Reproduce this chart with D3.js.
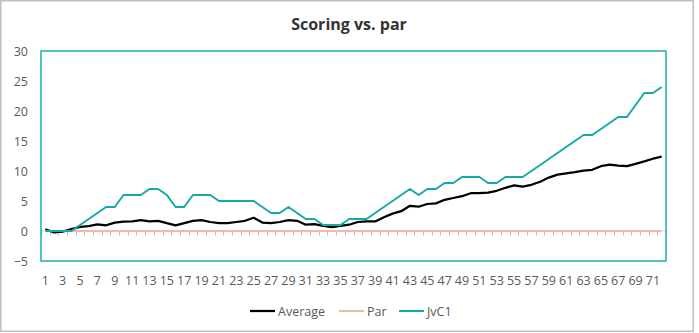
<!DOCTYPE html>
<html><head><meta charset="utf-8">
<script src="https://cdn.jsdelivr.net/npm/d3@7"></script>
<style>
html,body{margin:0;padding:0;background:#fff;}
text{font-family:"Open Sans","Noto Sans",sans-serif;}
</style></head>
<body>
<svg id="chart" width="699" height="333"></svg>
<script>
const categories = d3.range(1, 73);
const tickLabels = d3.range(1, 72, 2);
const yTicks = [-5, 0, 5, 10, 15, 20, 25, 30];
const average = [0.3,-0.25,-0.1,0.3,0.7,0.8,1.1,0.95,1.4,1.55,1.6,1.8,1.6,1.7,1.3,0.95,1.3,1.7,1.8,1.5,
  1.3,1.3,1.5,1.7,2.2,1.4,1.3,1.5,1.8,1.7,1.05,1.15,0.85,0.65,0.85,1.05,1.5,1.6,1.6,2.3,
  2.9,3.3,4.2,4.05,4.5,4.6,5.2,5.5,5.8,6.3,6.3,6.4,6.7,7.2,7.6,7.4,7.7,8.2,8.9,9.4,
  9.6,9.8,10.05,10.2,10.8,11.05,10.9,10.8,11.2,11.6,12.05,12.4];
const par = categories.map(() => 0);
const jvc1 = [0,0,0,0,1,2,3,4,4,6,6,6,7,7,6,4,4,6,6,6,
  5,5,5,5,5,4,3,3,4,3,2,2,1,1,1,2,2,2,3,4,
  5,6,7,6,7,7,8,8,9,9,9,8,8,9,9,9,10,11,12,13,
  14,15,16,16,17,18,19,19,21,23,23,24];
const seriesNames = ["Average", "Par", "JvC1"];
const seriesColors = ["#000000", "#F4B6AE", "#17A9A5"];
const seriesWidths = [2.25, 2, 2];
const seriesData = [average, par, jvc1];

const svg = d3.select("#chart");
const W = 699, H = 333;
const plot = {left: 41, right: 666, top: 51, bottom: 261};

// outer border
svg.append("rect").attr("x", 0.75).attr("y", 0.75).attr("width", 692.5).attr("height", 330.5)
  .attr("fill", "#fff").attr("stroke", "#BFBFBF").attr("stroke-width", 1.5);

// title
svg.append("text").attr("x", 349).attr("y", 30).attr("text-anchor", "middle")
  .attr("font-size", 16).attr("font-weight", "bold").attr("fill", "#333")
  .text("Scoring vs. par");

const x = d3.scaleBand().domain(categories).range([plot.left, plot.right]);
const y = d3.scaleLinear().domain([-5, 30]).range([plot.bottom, plot.top]);

// y axis labels
const yAxis = d3.axisLeft(y).tickValues(yTicks).tickSize(0).tickPadding(0);
const gy = svg.append("g").attr("transform", `translate(${28},0)`).call(yAxis);
gy.select(".domain").remove();
gy.selectAll("text").attr("font-size", 12.5).attr("fill", "#595959")
  .attr("font-family", "'Open Sans', sans-serif");

// x axis tick marks at category boundaries on the zero line
const bounds = categories.map(c => x(c)).concat([x(categories[categories.length - 1]) + x.bandwidth()]);
svg.append("line").attr("x1", plot.left).attr("x2", plot.right)
  .attr("y1", y(0)).attr("y2", y(0)).attr("stroke", "#D9D9D9").attr("stroke-width", 1);
svg.append("g").selectAll("line").data(bounds).join("line")
  .attr("x1", d => Math.round(d) + 0.5).attr("x2", d => Math.round(d) + 0.5)
  .attr("y1", y(0)).attr("y2", y(0) + 4.5)
  .attr("stroke", "#BFBFBF").attr("stroke-width", 1);

// x labels
const xAxis = d3.axisBottom(x).tickValues(tickLabels).tickSize(0).tickPadding(0);
const gx = svg.append("g").attr("transform", `translate(0,${276})`).call(xAxis);
gx.select(".domain").remove();
gx.selectAll("text").attr("font-size", 12.5).attr("fill", "#595959")
  .attr("font-family", "'Open Sans', sans-serif");

// plot border (teal)
svg.append("rect").attr("x", plot.left).attr("y", plot.top)
  .attr("width", plot.right - plot.left).attr("height", plot.bottom - plot.top)
  .attr("fill", "none").attr("stroke", "#1AAEA9").attr("stroke-width", 1.5);

// lines
const line = d3.line().x((d, i) => x(categories[i]) + x.bandwidth() / 2).y(d => y(d));
seriesData.forEach((data, k) => {
  svg.append("path").datum(data).attr("d", line)
    .attr("fill", "none").attr("stroke", seriesColors[k])
    .attr("stroke-width", seriesWidths[k]).attr("stroke-linejoin", "round");
});

// legend
const legendItems = [{x: 250}, {x: 339}, {x: 399}];
const lg = svg.append("g");
seriesNames.forEach((name, k) => {
  const lx = legendItems[k].x;
  lg.append("line").attr("x1", lx).attr("x2", lx + 25).attr("y1", 311).attr("y2", 311)
    .attr("stroke", seriesColors[k]).attr("stroke-width", seriesWidths[k]);
  lg.append("text").attr("x", lx + 28).attr("y", 315.5).attr("font-size", 12.5)
    .attr("fill", "#595959").text(name);
});
</script>
</body></html>
